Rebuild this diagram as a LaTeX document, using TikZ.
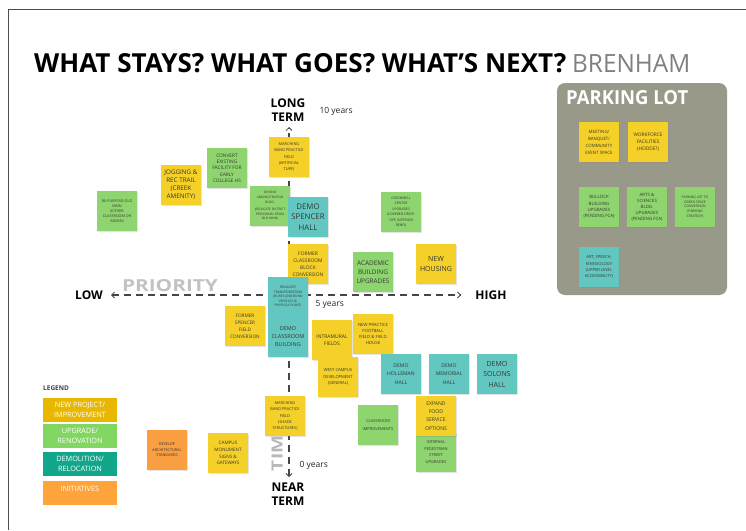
\documentclass[tikz,border=0pt]{standalone}
\usepackage{fontspec}
\setmainfont{Open Sans}
\usetikzlibrary{shadows,arrows.meta}

\definecolor{nyel}{RGB}{245,208,40}
\definecolor{ngrn}{RGB}{142,213,112}
\definecolor{ntel}{RGB}{98,199,193}
\definecolor{nora}{RGB}{250,158,66}
\definecolor{lyel}{RGB}{232,184,0}
\definecolor{lgrn}{RGB}{130,214,98}
\definecolor{ltel}{RGB}{18,166,138}
\definecolor{lora}{RGB}{255,164,58}
\definecolor{pk}{RGB}{153,153,138}
\definecolor{ntxt}{RGB}{55,55,45}
\definecolor{axc}{RGB}{70,70,70}

\newcommand{\fsz}[2]{\fontsize{#1}{#2}\selectfont}

\tikzset{
  note/.style={draw=none, minimum width=40pt, minimum height=40pt, inner sep=0.5pt,
    align=center, text=ntxt,
    drop shadow={shadow xshift=0.7pt, shadow yshift=-0.7pt, opacity=0.22}},
  yl/.style={note, fill=nyel},
  gr/.style={note, fill=ngrn},
  tl/.style={note, fill=ntel},
  og/.style={note, fill=nora},
  fs/.style 2 args={font=\fsz{#1}{#2}},
  legbox/.style={draw=none, minimum width=74pt, minimum height=24pt, inner sep=0pt,
    align=center, text=white, font=\fsz{7.3}{9.3}},
  axisline/.style={line width=1.4pt, color=axc, dash pattern=on 7pt off 5pt,
    arrows={Straight Barb[length=3pt,width=6pt,line width=0.8pt]-Straight Barb[length=3pt,width=6pt,line width=0.8pt]}},
  endlbl/.style={font=\bfseries\fsz{12}{14}, align=center, text=black},
  yrs/.style={font=\fsz{8.5}{10}, text=black!85, anchor=west},
}

\begin{document}
\begin{tikzpicture}[x=1pt,y=-1pt]
\useasboundingbox (0,0) rectangle (746,530);
\fill[white] (0,0) rectangle (746,530);
\draw[line width=0.8pt, black!70] (8,530) -- (8,9) -- (746,9);

% title
\node[anchor=west, inner sep=0pt] (title) at (34,63)
  {\resizebox{532pt}{19pt}{\bfseries WHAT STAYS? WHAT GOES? WHAT’S NEXT?}};
\node[anchor=west, inner sep=0pt, text=black!50] (city) at (572,63)
  {\resizebox{118pt}{18pt}{BRENHAM}};

% parking lot panel
\node[draw=none, fill=pk, rounded corners=8pt, minimum width=170pt, minimum height=212pt, inner sep=0pt]
  (panel) at (642,189) {};
\node[anchor=west, inner sep=0pt, text=white] (pltitle) at (566,98)
  {\resizebox{122pt}{14pt}{\bfseries PARKING LOT}};

% faded axis words
\node[inner sep=0pt, text=black!24] (prio) at (170,286) {\resizebox{96pt}{12pt}{\bfseries PRIORITY}};
\node[inner sep=0pt, text=black!28, rotate=90] (timew) at (277,448) {\resizebox{46pt}{11pt}{\bfseries TIME}};

% axes
\coordinate (vt) at (289,127);
\coordinate (vb) at (289,477);
\coordinate (hl) at (111,295);
\coordinate (hr) at (461,295);
\draw[axisline] (hl) -- (hr);
\draw[axisline] (vb) -- (vt);

\node[endlbl] (low) at (89,295) {LOW};
\node[endlbl] (high) at (491,295) {HIGH};
\node[endlbl] (long) at (288,110) {LONG\\TERM};
\node[endlbl] (near) at (288,494) {NEAR\\TERM};
\node[yrs] (y10) at (316,111) {10 years};
\node[yrs] (y5) at (312,304) {5 years};
\node[yrs] (y0) at (296,465) {0 years};

% notes
\node[gr, fs={3.7}{5}] (oldmain) at (117,211) {RE-PURPOSE OLD\\MAIN\\(EITHER\\CLASSROOM OR\\ADMIN)};
\node[yl, fs={6.3}{8}] (jog) at (181,185) {JOGGING \&\\REC TRAIL\\(CREEK\\AMENITY)};
\node[gr, fs={4.8}{6.3}] (convert) at (227,168) {CONVERT\\EXISTING\\FACILITY FOR\\EARLY\\COLLEGE HS};
\node[yl, fs={3.9}{6.2}] (band1) at (289,157) {MARCHING\\BAND PRACTICE\\FIELD\\(ARTIFICIAL\\TURF)};
\node[gr, fs={3.2}{4.6}] (admin) at (270,206) {EXPAND\\ADMINISTRATION\\BLDG.\\[3pt](RELOCATE DISTRICT\\PERSONNEL FROM\\OLD MAIN)};
\node[tl, fs={7.8}{10.5}] (spencer) at (308,217) {DEMO\\SPENCER\\HALL};
\node[gr, fs={3.5}{5.4}] (odonnell) at (401,212) {O’DONNELL\\CENTER\\UPGRADES\\(COVERED DROP-\\OFF, INTERIOR\\RENO)};
\node[yl, fs={4.9}{7}] (classblock) at (308,264) {FORMER\\CLASSROOM\\BLOCK\\CONVERSION};
\node[tl, fs={3.3}{4.5}] (relocate) at (288,297) {RELOCATE\\TRANSPORTATION\\(BUSES AND BUNN\\VEHICLES @\\PHYSICAL PLANT)};
\node[gr, fs={6.4}{8.8}] (academic) at (373,272) {ACADEMIC\\BUILDING\\UPGRADES};
\node[yl, fs={7}{10}] (housing) at (436,264) {NEW\\HOUSING};
\node[yl, fs={4.7}{7}] (fspencer) at (245,326) {FORMER\\SPENCER\\FIELD\\CONVERSION};
\node[tl, fs={5.5}{8}] (democlass) at (288,337) {DEMO\\CLASSROOM\\BUILDING};
\node[yl, fs={5}{7}] (intramural) at (332,340) {INTRAMURAL\\FIELDS};
\node[yl, fs={4.3}{6.2}] (football) at (373,334) {NEW PRACTICE\\FOOTBALL\\FIELD \& FIELD\\HOUSE};
\node[yl, fs={4.1}{6.3}] (westcampus) at (338,377) {WEST CAMPUS\\DEVELOPMENT\\(GENERAL)};
\node[tl, fs={5.1}{8.2}] (holleman) at (401,374) {DEMO\\HOLLEMAN\\HALL};
\node[tl, fs={5.1}{8.2}] (memorial) at (449,374) {DEMO\\MEMORIAL\\HALL};
\node[tl, fs={7}{10.5}] (solons) at (497,374) {DEMO\\SOLONS\\HALL};
\node[gr, fs={4}{6.5}] (pedestrian) at (436,452) {INTERNAL\\PEDESTRIAN\\STREET\\UPGRADES};
\node[yl, fs={5.1}{8.2}] (food) at (436,416) {EXPAND\\FOOD\\SERVICE\\OPTIONS};
\node[gr, fs={4}{7.2}] (classimpr) at (378,425) {CLASSROOM\\IMPROVEMENTS};
\node[yl, fs={3.9}{6.2}] (band2) at (285,416) {MARCHING\\BAND PRACTICE\\FIELD\\(SHADE\\STRUCTURES)};
\node[og, fs={3.8}{5.5}] (archstd) at (167,450) {DEVELOP\\ARCHITECTURAL\\STANDARDS};
\node[yl, fs={4.6}{6.8}] (monument) at (228,453) {CAMPUS\\MONUMENT\\SIGNS \&\\GATEWAYS};

% parking lot notes
\node[yl, fs={4.4}{7}] (meeting) at (599,142) {MEETING/\\BANQUET/\\COMMUNITY\\EVENT SPACE};
\node[yl, fs={4.8}{7.3}] (workforce) at (648,142) {WORKFORCE\\FACILITIES\\(HODDE?)};
\node[gr, fs={4.4}{6.4}] (bullock) at (599,207) {BULLOCK\\BUILDING\\UPGRADES\\(PENDING FCA)};
\node[gr, fs={4.4}{6}] (arts) at (647,207) {ARTS \&\\SCIENCES\\BLDG.\\UPGRADES\\(PENDING FCA)};
\node[gr, fs={3.4}{4.8}] (pltogreen) at (695,207) {PARKING LOT TO\\GREEN SPACE\\CONVERSION\\(PARKING\\STRATEGY)};
\node[tl, fs={4.1}{6.2}] (artspeech) at (599,267) {ART, SPEECH,\\KINESIOLOGY\\(UPPER LEVEL\\ACCESSIBILITY)};

% legend
\node[anchor=west, inner sep=0pt, text=black!75, font=\bfseries\fsz{6.5}{8}] (legend) at (43,388) {LEGEND};
\node[legbox, fill=lyel] (lnew) at (80,410) {NEW PROJECT/\\IMPROVEMENT};
\node[legbox, fill=lgrn] (lupg) at (80,436) {UPGRADE/\\RENOVATION};
\node[legbox, fill=ltel] (ldemo) at (80,464) {DEMOLITION/\\RELOCATION};
\node[legbox, fill=lora] (linit) at (80,493) {INITIATIVES\\\mbox{}};
\end{tikzpicture}
\end{document}
